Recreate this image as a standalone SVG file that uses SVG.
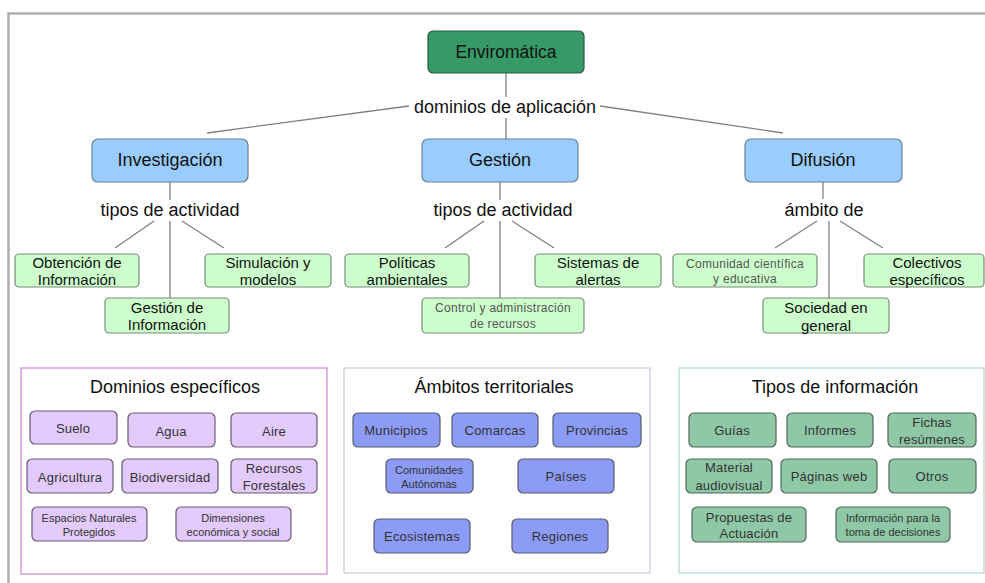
<svg xmlns="http://www.w3.org/2000/svg" width="985" height="583" viewBox="0 0 985 583">
<style>
text{font-family:"Liberation Sans",Arial,sans-serif;text-anchor:middle;dominant-baseline:central}
.frame{stroke:#b0b0b0;stroke-width:2.5;fill:none}
.conn line{stroke:#808080;stroke-width:1.3}
.root{fill:#369966;stroke:#2a5a40;stroke-width:1.2}
.cat{fill:#99ccff;stroke:#6a7f96;stroke-width:1.2}
.leaf{fill:#ccffcc;stroke:#7a8a7a;stroke-width:1.2}
.pur{fill:#e2cafa;stroke:#6a5a70;stroke-width:1.2}
.blu{fill:#8c9cf6;stroke:#555a70;stroke-width:1.2}
.grn{fill:#8fc8a6;stroke:#506656;stroke-width:1.2}
.t18{font-size:18px;fill:#111}
.t17{font-size:17.5px;fill:#111}
.ttl{font-size:18px;fill:#111}
.t14{font-size:15px;fill:#111}
.t15{font-size:15px;fill:#111}
.s12{font-size:12px;fill:#555;letter-spacing:0.3px}
.b13{font-size:13px;fill:#333;letter-spacing:0.2px}
.b11{font-size:11px;fill:#333}
.lbl{font-size:18px;fill:#111}
</style>
<rect x="0" y="0" width="985" height="583" fill="#ffffff"/>
<path class="frame" d="M8.5,583 V13.5 H985"/>

<g id="connectors" class="conn">
  <line x1="506" y1="73" x2="506" y2="97"/>
  <line x1="506" y1="118" x2="506" y2="139"/>
  <line x1="409" y1="106" x2="207" y2="133"/>
  <line x1="600" y1="106" x2="783" y2="133"/>
  <line x1="170" y1="182" x2="170" y2="200"/>
  <line x1="170" y1="221" x2="170" y2="298"/>
  <line x1="154" y1="221" x2="115" y2="248"/>
  <line x1="182" y1="221" x2="224" y2="248"/>
  <line x1="500" y1="182" x2="500" y2="200"/>
  <line x1="500" y1="221" x2="500" y2="298"/>
  <line x1="484" y1="221" x2="445" y2="248"/>
  <line x1="512" y1="221" x2="554" y2="248"/>
  <line x1="823" y1="182" x2="823" y2="199"/>
  <line x1="829" y1="221" x2="829" y2="298"/>
  <line x1="817" y1="221" x2="775" y2="248"/>
  <line x1="840" y1="221" x2="883" y2="248"/>
</g>

<g id="lbl-dominios"><text class="lbl" x="505" y="107">dominios de aplicación</text></g>
<g id="lbl-tipos1"><text class="lbl" x="170" y="210">tipos de actividad</text></g>
<g id="lbl-tipos2"><text class="lbl" x="503" y="210">tipos de actividad</text></g>
<g id="lbl-ambito"><text class="lbl" x="824" y="210">ámbito de</text></g>

<g id="n-enviromatica"><rect class="root" x="428" y="31" width="156" height="42" rx="5"/><text class="t17" x="506" y="52">Enviromática</text></g>

<g id="n-investigacion"><rect class="cat" x="92" y="139" width="156" height="43" rx="6"/><text class="t18" x="170" y="160">Investigación</text></g>
<g id="n-gestion"><rect class="cat" x="422" y="139" width="156" height="43" rx="6"/><text class="t18" x="500" y="160">Gestión</text></g>
<g id="n-difusion"><rect class="cat" x="745" y="139" width="157" height="43" rx="6"/><text class="t18" x="823" y="160">Difusión</text></g>

<g id="n-obtencion"><rect class="leaf" x="15" y="254" width="124" height="33" rx="4"/><text class="t14" x="77" y="262">Obtención de</text><text class="t14" x="77" y="279">Información</text></g>
<g id="n-simulacion"><rect class="leaf" x="205" y="254" width="126" height="33" rx="4"/><text class="t14" x="268" y="262">Simulación y</text><text class="t14" x="268" y="279">modelos</text></g>
<g id="n-gestion-info"><rect class="leaf" x="105" y="298" width="124" height="35" rx="4"/><text class="t14" x="167" y="307">Gestión de</text><text class="t14" x="167" y="324">Información</text></g>

<g id="n-politicas"><rect class="leaf" x="345" y="254" width="124" height="33" rx="4"/><text class="t14" x="407" y="262">Políticas</text><text class="t14" x="407" y="279">ambientales</text></g>
<g id="n-sistemas"><rect class="leaf" x="535" y="254" width="126" height="33" rx="4"/><text class="t14" x="598" y="262">Sistemas de</text><text class="t14" x="598" y="279">alertas</text></g>
<g id="n-control"><rect class="leaf" x="422" y="298" width="162" height="35" rx="4"/><text class="s12" x="503" y="308">Control y administración</text><text class="s12" x="503" y="324">de recursos</text></g>

<g id="n-comunidad"><rect class="leaf" x="673" y="254" width="144" height="33" rx="4"/><text class="s12" x="745" y="264">Comunidad científica</text><text class="s12" x="745" y="279">y educativa</text></g>
<g id="n-colectivos"><rect class="leaf" x="864" y="254" width="120" height="33" rx="4"/><text class="t15" x="927" y="262">Colectivos</text><text class="t15" x="927" y="279">específicos</text></g>
<g id="n-sociedad"><rect class="leaf" x="763" y="298" width="126" height="35" rx="4"/><text class="t15" x="826" y="307">Sociedad en</text><text class="t15" x="826" y="325">general</text></g>

<g id="p-dominios">
  <rect x="21" y="368" width="306" height="206" fill="#fff" stroke="#cc88cc" stroke-width="1.2"/>
  <text class="ttl" x="175" y="387">Dominios específicos</text>
</g>
<g id="n-suelo"><rect class="pur" x="30" y="411" width="87" height="33" rx="5"/><text class="b13" x="73" y="428">Suelo</text></g>
<g id="n-agua"><rect class="pur" x="128" y="413" width="87" height="34" rx="5"/><text class="b13" x="171" y="431">Agua</text></g>
<g id="n-aire"><rect class="pur" x="231" y="413" width="86" height="34" rx="5"/><text class="b13" x="274" y="431">Aire</text></g>
<g id="n-agricultura"><rect class="pur" x="27" y="459" width="86" height="34" rx="5"/><text class="b13" x="70" y="477">Agricultura</text></g>
<g id="n-biodiversidad"><rect class="pur" x="122" y="459" width="96" height="34" rx="5"/><text class="b13" x="170" y="477">Biodiversidad</text></g>
<g id="n-recursos"><rect class="pur" x="231" y="459" width="86" height="34" rx="5"/><text class="b13" x="274" y="468">Recursos</text><text class="b13" x="274" y="485">Forestales</text></g>
<g id="n-espacios"><rect class="pur" x="32" y="507" width="115" height="34" rx="5"/><text class="b11" x="89" y="518">Espacios Naturales</text><text class="b11" x="89" y="532">Protegidos</text></g>
<g id="n-dimensiones"><rect class="pur" x="176" y="507" width="115" height="34" rx="5"/><text class="b11" x="233" y="518">Dimensiones</text><text class="b11" x="233" y="532">económica y social</text></g>

<g id="p-ambitos">
  <rect x="344" y="368" width="306" height="205" fill="#fff" stroke="#c8c8dc" stroke-width="1.2"/>
  <text class="ttl" x="494" y="387">Ámbitos territoriales</text>
</g>
<g id="n-municipios"><rect class="blu" x="353" y="413" width="87" height="34" rx="5"/><text class="b13" x="396" y="430">Municipios</text></g>
<g id="n-comarcas"><rect class="blu" x="452" y="413" width="86" height="34" rx="5"/><text class="b13" x="495" y="430">Comarcas</text></g>
<g id="n-provincias"><rect class="blu" x="553" y="413" width="88" height="34" rx="5"/><text class="b13" x="597" y="430">Provincias</text></g>
<g id="n-comunidades"><rect class="blu" x="386" y="459" width="87" height="34" rx="5"/><text class="b11" x="429" y="470">Comunidades</text><text class="b11" x="429" y="484">Autónomas</text></g>
<g id="n-paises"><rect class="blu" x="518" y="459" width="96" height="34" rx="5"/><text class="b13" x="566" y="476">Países</text></g>
<g id="n-ecosistemas"><rect class="blu" x="374" y="519" width="96" height="34" rx="5"/><text class="b13" x="422" y="536">Ecosistemas</text></g>
<g id="n-regiones"><rect class="blu" x="512" y="519" width="96" height="34" rx="5"/><text class="b13" x="560" y="536">Regiones</text></g>

<g id="p-tipos">
  <rect x="679" y="368" width="305" height="205" fill="#fff" stroke="#a8dcc0" stroke-width="1.2"/>
  <text class="ttl" x="835" y="387">Tipos de información</text>
</g>
<g id="n-guias"><rect class="grn" x="689" y="413" width="87" height="34" rx="5"/><text class="b13" x="732" y="430">Guías</text></g>
<g id="n-informes"><rect class="grn" x="787" y="413" width="86" height="34" rx="5"/><text class="b13" x="830" y="430">Informes</text></g>
<g id="n-fichas"><rect class="grn" x="888" y="413" width="88" height="34" rx="5"/><text class="b13" x="932" y="422">Fichas</text><text class="b13" x="932" y="439">resúmenes</text></g>
<g id="n-material"><rect class="grn" x="686" y="459" width="86" height="34" rx="5"/><text class="b13" x="729" y="467">Material</text><text class="b13" x="729" y="485">audiovisual</text></g>
<g id="n-paginas"><rect class="grn" x="781" y="459" width="96" height="34" rx="5"/><text class="b13" x="829" y="476">Páginas web</text></g>
<g id="n-otros"><rect class="grn" x="889" y="459" width="87" height="34" rx="5"/><text class="b13" x="932" y="476">Otros</text></g>
<g id="n-propuestas"><rect class="grn" x="692" y="507" width="114" height="35" rx="5"/><text class="b13" x="749" y="517">Propuestas de</text><text class="b13" x="749" y="533">Actuación</text></g>
<g id="n-informacion"><rect class="grn" x="836" y="507" width="114" height="35" rx="5"/><text class="b11" x="893" y="518">Información para la</text><text class="b11" x="893" y="532">toma de decisiones</text></g>
</svg>
